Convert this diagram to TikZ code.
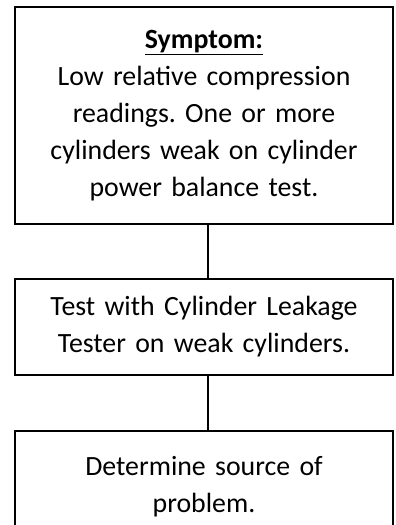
\documentclass[tikz,border=0pt]{standalone}
\usepackage{fontspec}
\setmainfont{Carlito}
\usetikzlibrary{positioning}

\begin{document}
\frenchspacing
\begin{tikzpicture}[x=0.025cm,y=-0.025cm,
  stepbox/.style={draw, line width=0.05cm, minimum width=378*0.025cm, text width=9.3cm,
    align=center, inner sep=0pt, font=\fontsize{19.8}{26.3}\selectfont},
  link/.style={line width=0.05cm}]

\useasboundingbox (0,0) rectangle (395,525);
\clip (0,0) rectangle (395,525);

\node[stepbox, minimum height=217*0.025cm] (symptom) at (204,115.5)
  {\underline{\textbf{Symptom:}}\\
   Low relative compression\\
   readings. One or more\\
   cylinders weak on cylinder\\
   power balance test.};

\node[stepbox, minimum height=96*0.025cm] (leaktest) at (204,327)
  {Test with Cylinder Leakage\\
   Tester on weak cylinders.};

\node[stepbox, minimum height=112*0.025cm] (source) at (204,487)
  {Determine source of\\
   problem.};

\draw[link] ([xshift=0.1cm]symptom.south) -- ([xshift=0.1cm]leaktest.north);
\draw[link] ([xshift=0.1cm]leaktest.south) -- ([xshift=0.1cm]source.north);

\end{tikzpicture}
\end{document}
